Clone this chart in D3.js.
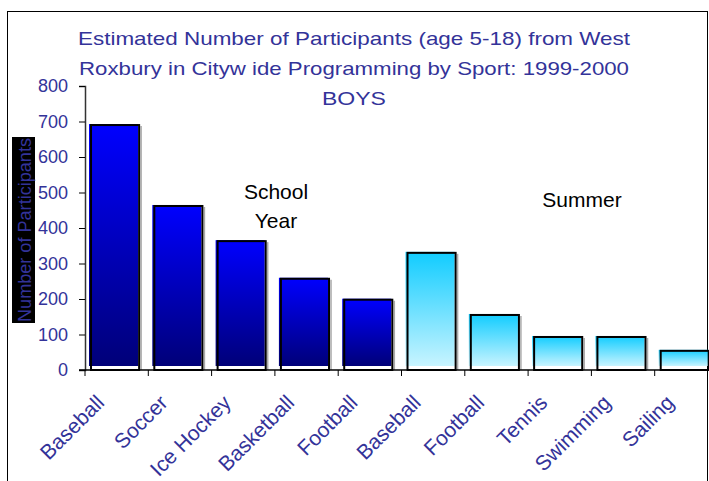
<!DOCTYPE html>
<html>
<head>
<meta charset="utf-8">
<script src="https://cdn.jsdelivr.net/npm/d3@7"></script>
<style>
  body { margin: 0; background: #fff; }
  text { font-family: Arial, "Liberation Sans", sans-serif; }
</style>
</head>
<body>
<div id="chart"></div>
<script>
// chart data
const sports = ["Baseball", "Soccer", "Ice Hockey", "Basketball", "Football",
                "Baseball", "Football", "Tennis", "Swimming", "Sailing"];
const participants = [690, 462, 363, 257, 198, 330, 155, 93, 93, 54];
const season = ["school", "school", "school", "school", "school",
                "summer", "summer", "summer", "summer", "summer"];
const yTicks = [0, 100, 200, 300, 400, 500, 600, 700, 800];
const titleLines = [
    "Estimated Number of Participants (age 5-18) from West",
    "Roxbury in Cityw ide Programming by Sport: 1999-2000",
    "BOYS"
];
const titleWidths = [552, 550, 64];

const width = 709, height = 481;
const x0 = 85, y0 = 370, yTop = 86;

const svg = d3.select("#chart").append("svg")
    .attr("width", width)
    .attr("height", height);

// gradients
const defs = svg.append("defs");
const grads = {
    school: ["#0000ff", "#000078"],
    summer: ["#10ccff", "#c8f4ff"]
};
Object.entries(grads).forEach(([k, c]) => {
    const g = defs.append("linearGradient")
        .attr("id", "grad-" + k)
        .attr("x1", 0).attr("y1", 0).attr("x2", 0).attr("y2", 1);
    g.append("stop").attr("offset", "0%").attr("stop-color", c[0]);
    g.append("stop").attr("offset", "100%").attr("stop-color", c[1]);
});

// outer frame
svg.append("rect")
    .attr("x", 7.5).attr("y", 11.5)
    .attr("width", 700).attr("height", 500)
    .attr("fill", "none")
    .attr("stroke", "#000");

// scales
const idx = d3.range(sports.length);
const xScale = d3.scaleBand()
    .domain(idx)
    .range([x0, x0 + 63.3 * sports.length]);

const yScale = d3.scaleLinear()
    .domain([0, 800])
    .range([y0, yTop]);

// title
svg.append("g").selectAll("text")
    .data(titleLines)
    .join("text")
    .attr("x", 354)
    .attr("y", (d, i) => 45 + i * 30)
    .attr("text-anchor", "middle")
    .attr("fill", "#333399")
    .attr("textLength", (d, i) => titleWidths[i])
    .attr("lengthAdjust", "spacingAndGlyphs")
    .style("font-size", "19px")
    .text(d => d);

// bars
const bw = xScale.bandwidth();
const bars = svg.append("g");
idx.forEach(i => {
    const bx = xScale(i) + bw * 0.095;
    const w = bw * 0.76;
    const top = yScale(participants[i]);
    // fill, slightly offset up-left like the original
    bars.append("rect")
        .attr("x", bx - 2)
        .attr("y", top - 1)
        .attr("width", w + 1)
        .attr("height", y0 - 4 - (top - 1))
        .attr("fill", `url(#grad-${season[i]})`);
    // shadow on right
    bars.append("line")
        .attr("x1", bx + w + 2).attr("x2", bx + w + 2)
        .attr("y1", top + 1).attr("y2", y0)
        .attr("stroke", "#aaa")
        .attr("stroke-width", 1.5);
    // outline
    bars.append("rect")
        .attr("x", bx)
        .attr("y", top)
        .attr("width", w)
        .attr("height", y0 - top)
        .attr("fill", "none")
        .attr("stroke", "#000")
        .attr("stroke-width", 2);
});

// y axis
const yAxis = svg.append("g")
    .attr("transform", `translate(${x0},0)`)
    .call(d3.axisLeft(yScale).tickValues(yTicks).tickSize(6).tickPadding(11));
yAxis.select(".domain").attr("stroke", "#333").attr("stroke-width", 1.5);
yAxis.selectAll(".tick line").attr("stroke", "#000");
yAxis.selectAll("text")
    .attr("fill", "#333399")
    .style("font-size", "18px")
    .style("font-family", "Arial, 'Liberation Sans', sans-serif");

// x axis (ticks at category boundaries)
const xEdges = d3.range(sports.length + 1).map(i => x0 + i * bw);
const xAxis = svg.append("g");
xAxis.append("line")
    .attr("x1", x0 - 6).attr("x2", width)
    .attr("y1", y0).attr("y2", y0)
    .attr("stroke", "#000").attr("stroke-width", 1.5);
xAxis.selectAll(".xt")
    .data(xEdges)
    .join("line")
    .attr("x1", d => d).attr("x2", d => d)
    .attr("y1", y0).attr("y2", y0 + 6)
    .attr("stroke", "#000");

// x labels
svg.append("g").selectAll("text")
    .data(idx)
    .join("text")
    .attr("transform", i => `translate(${xScale(i) + bw / 2 - 11},${y0 + 34}) rotate(-45)`)
    .attr("text-anchor", "end")
    .attr("fill", "#333399")
    .style("font-size", "21px")
    .text(i => sports[i]);

// y axis title
svg.append("rect")
    .attr("x", 12).attr("y", 137)
    .attr("width", 23).attr("height", 186)
    .attr("fill", "#000");
svg.append("text")
    .attr("transform", "translate(31,230) rotate(-90)")
    .attr("text-anchor", "middle")
    .attr("fill", "#333399")
    .attr("textLength", 184)
    .attr("lengthAdjust", "spacingAndGlyphs")
    .style("font-size", "18px")
    .text("Number of Participants");

// season annotations
svg.append("text")
    .attr("x", 276).attr("y", 199)
    .attr("text-anchor", "middle")
    .style("font-size", "21px")
    .text("School");
svg.append("text")
    .attr("x", 276).attr("y", 228)
    .attr("text-anchor", "middle")
    .style("font-size", "21px")
    .text("Year");
svg.append("text")
    .attr("x", 582).attr("y", 207)
    .attr("text-anchor", "middle")
    .style("font-size", "21px")
    .text("Summer");
</script>
</body>
</html>
